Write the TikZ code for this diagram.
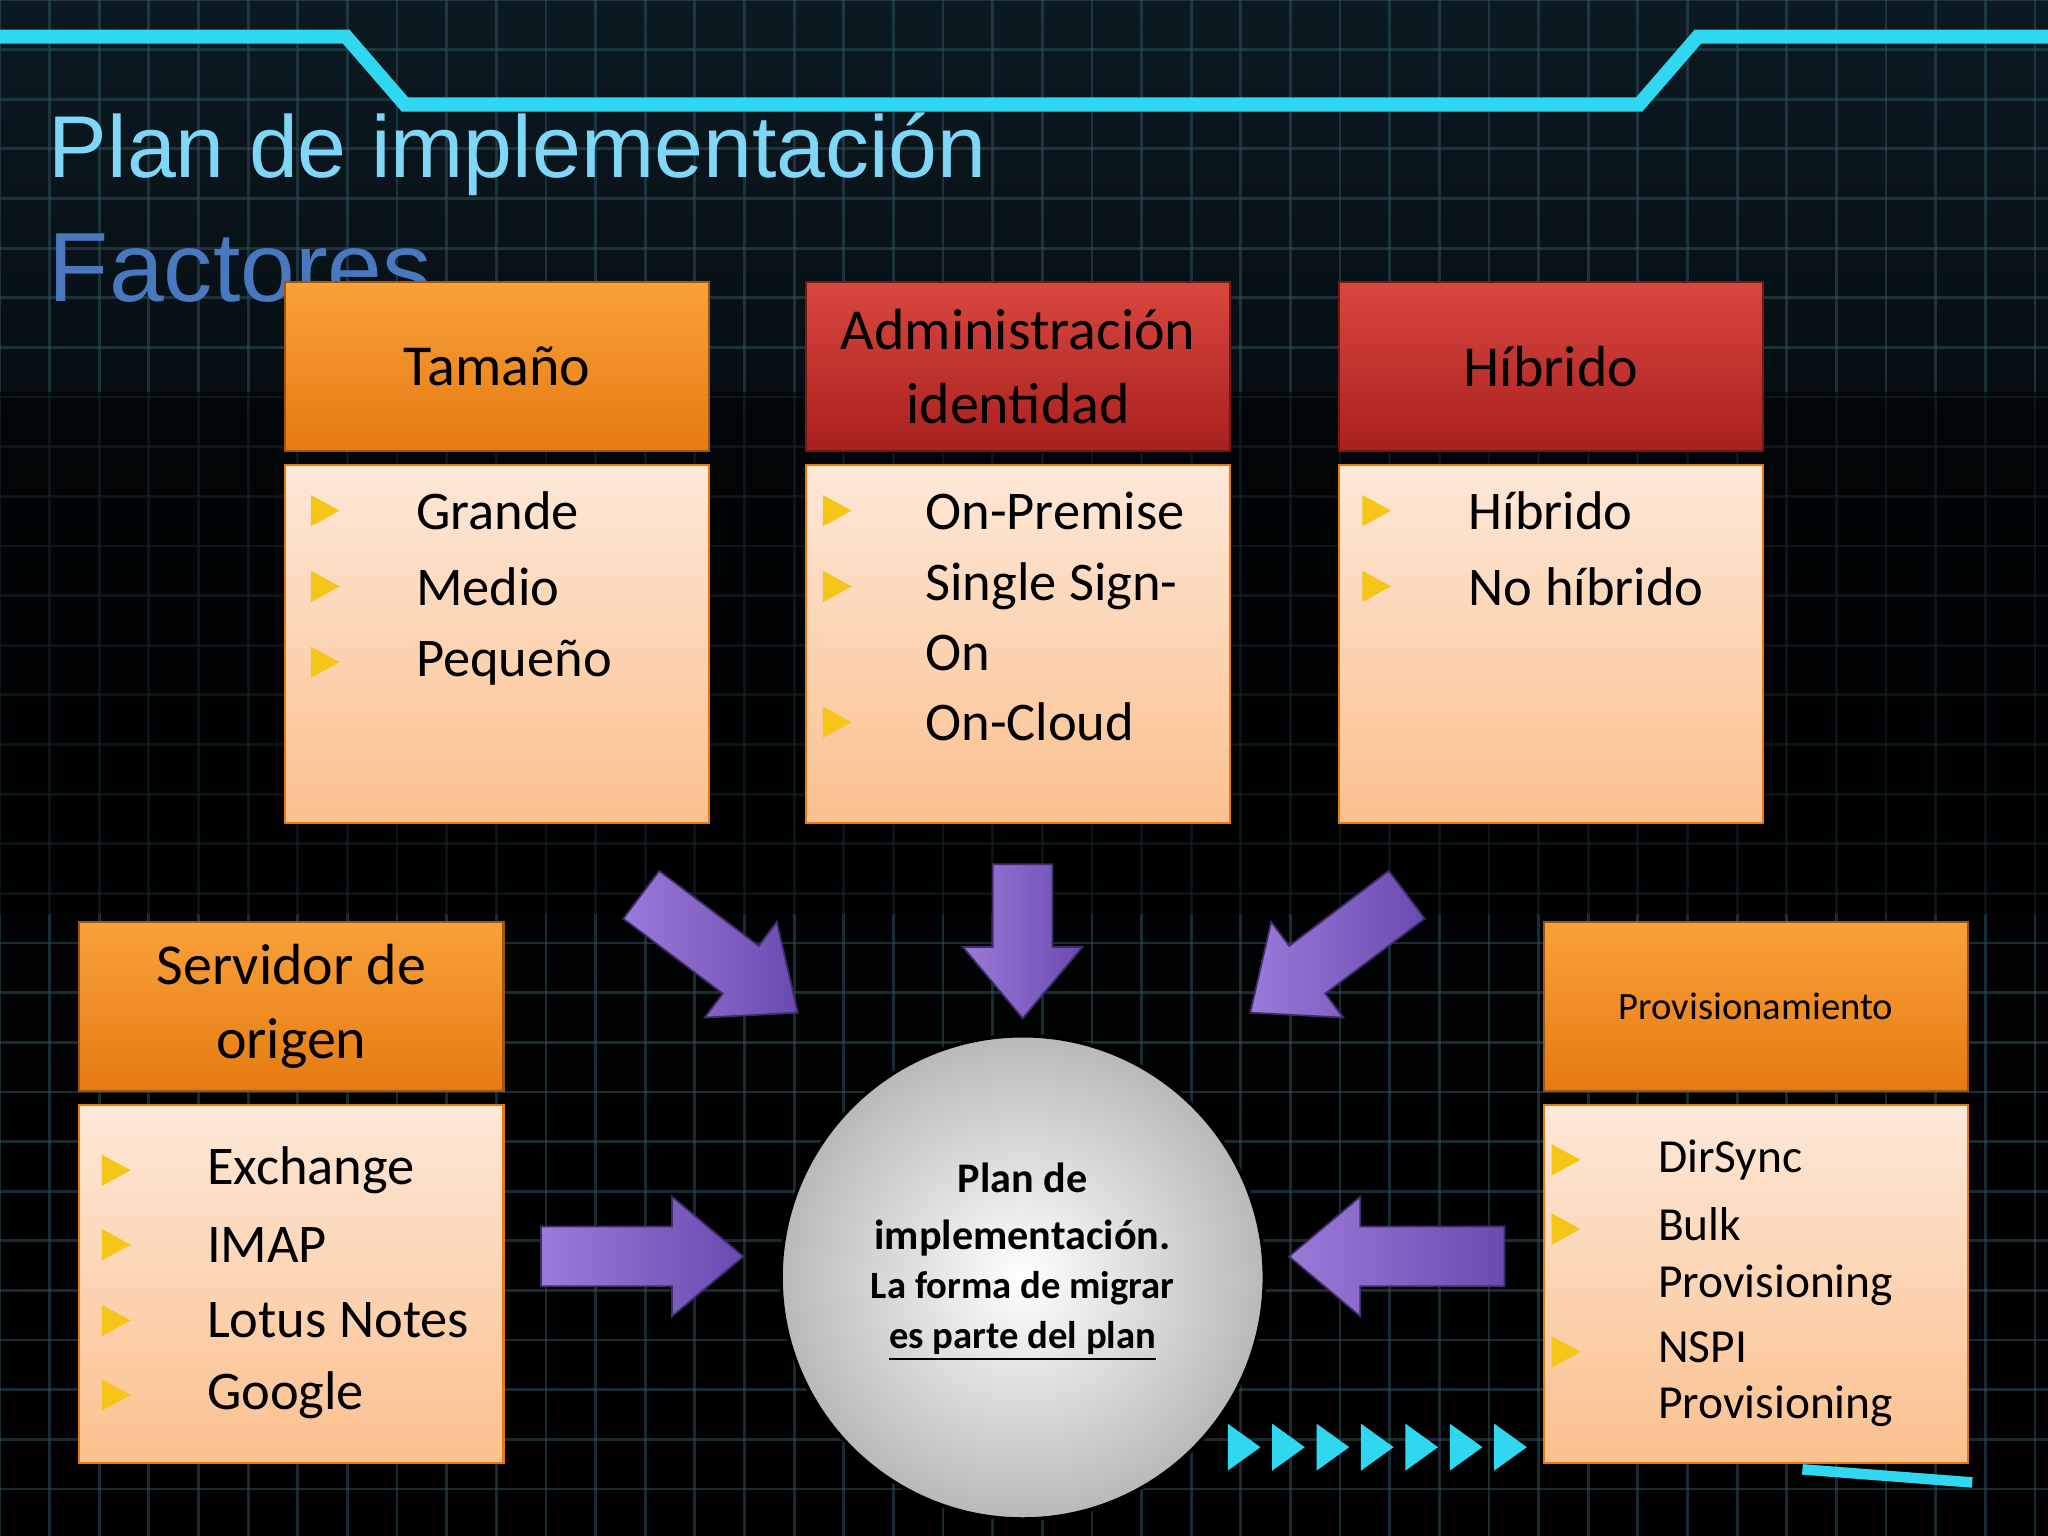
\documentclass[tikz,border=0pt]{standalone}
\usepackage{fontspec}
\setmainfont{Carlito}
\newfontfamily\titlefont{Liberation Sans}
\usetikzlibrary{shapes.arrows}
\definecolor{bgA}{HTML}{0B1A22}
\definecolor{gridc}{HTML}{2E4F5A}
\definecolor{cyanl}{HTML}{2FD8F0}
\definecolor{orT}{HTML}{F9A13A}
\definecolor{orB}{HTML}{E67A12}
\definecolor{rdT}{HTML}{D9473F}
\definecolor{rdB}{HTML}{A8201E}
\definecolor{pkT}{HTML}{FDE8D8}
\definecolor{pkB}{HTML}{FBC08E}
\definecolor{purT}{HTML}{9A7BD8}
\definecolor{purB}{HTML}{6A4AB0}
\definecolor{bul}{HTML}{F5C518}
\tikzset{
 x=0.01306cm,y=-0.01306cm,
 hdr/.style={draw=orB!70!black,line width=0.6pt,top color=orT,bottom color=orB,minimum width=325*0.01306cm,minimum height=129*0.01306cm,align=center,font=\fontsize{16.5}{21}\selectfont,inner sep=0pt},
 rhdr/.style={hdr,top color=rdT,bottom color=rdB,draw=rdB!70!black},
 bodyb/.style={draw=orB,line width=0.6pt,top color=pkT,bottom color=pkB,minimum width=325*0.01306cm,minimum height=274*0.01306cm,inner sep=0pt},
 itm/.style={anchor=west,font=\fontsize{15.5}{17}\selectfont,align=left,inner sep=0pt},
 barr/.style={single arrow,draw=purB!60!black,line width=0.5pt,left color=purT,right color=purB,shading angle=90,inner xsep=0pt,inner ysep=0.29cm,single arrow head extend=0.3cm,single arrow tip angle=80},
}
\newcommand{\bult}[2]{\fill[bul] (#1-10,#2-12) -- (#1+12,#2) -- (#1-10,#2+12) -- cycle;}
\begin{document}
\begin{tikzpicture}
\useasboundingbox (0,0) rectangle (1568,1176);
\fill[top color=bgA,bottom color=black,middle color=black!90!bgA] (0,0) rectangle (1568,1176);
\foreach \i in {0,38,...,1568} \draw[gridc,opacity=0.55,line width=0.8pt] (\i,0) -- (\i,1176);
\foreach \j in {0,38,...,1176} \draw[gridc,opacity=0.55,line width=0.8pt] (0,\j) -- (1568,\j);
\fill[black,opacity=0.55] (0,300) rectangle (1568,700);
\draw[cyanl,line width=4pt] (0,28) -- (265,28) -- (310,80) -- (1255,80) -- (1300,28) -- (1568,28);
\draw[cyanl,line width=3pt] (1380,1125) -- (1510,1135);
\foreach \k in {0,...,6} \fill[cyanl] (940+\k*34,1090) -- (965+\k*34,1108) -- (940+\k*34,1126) -- cycle;
\node[anchor=west,font=\titlefont\fontsize{25}{30}\selectfont,text=cyan!50!white] (t1) at (28,118) {Plan de implementación};
\node[anchor=west,font=\titlefont\fontsize{28}{30}\selectfont,text={rgb,255:red,74;green,120;blue,192}] (t2) at (28,205) {Factores};
% top boxes
\node[hdr] (h1) at (380.5,280.5) {Tamaño};
\node[bodyb] (b1) at (380.5,493) {};
\node[rhdr] (h2) at (779.5,280.5) {Administración\\identidad};
\node[bodyb] (b2) at (779.5,493) {};
\node[rhdr] (h3) at (1187.5,280.5) {Híbrido};
\node[bodyb] (b3) at (1187.5,493) {};
\node[hdr] (h4) at (223,770.5) {Servidor de\\origen};
\node[bodyb] (b4) at (223,983) {};
\node[hdr,font=\fontsize{11}{13}\selectfont] (h5) at (1344.5,770.5) {Provisionamiento};
\node[bodyb] (b5) at (1344.5,983) {};
% items
\bult{248}{391}\node[itm] (i11) at (318,391) {Grande};
\bult{248}{449}\node[itm] (i12) at (318,449) {Medio};
\bult{248}{507}\node[itm] (i13) at (318,507) {Pequeño};
\bult{640}{391}\node[itm] (i21) at (708,391) {On-Premise};
\bult{640}{449}\node[itm] (i22) at (708,472) {Single Sign-\\[3pt]On};
\bult{640}{553}\node[itm] (i23) at (708,553) {On-Cloud};
\bult{1053}{391}\node[itm] (i31) at (1124,391) {Híbrido};
\bult{1053}{449}\node[itm] (i32) at (1124,449) {No híbrido};
\bult{88}{896}\node[itm] (i41) at (158,896) {Exchange};
\bult{88}{953}\node[itm] (i42) at (158,953) {IMAP};
\bult{88}{1011}\node[itm] (i43) at (158,1011) {Lotus Notes};
\bult{88}{1068}\node[itm] (i44) at (158,1068) {Google};
\begin{scope}[itm/.append style={font=\fontsize{13.5}{16}\selectfont}]
\bult{1198}{888}\node[itm] (i51) at (1269,888) {DirSync};
\bult{1198}{941}\node[itm] (i52) at (1269,962) {Bulk\\Provisioning};
\bult{1198}{1035}\node[itm] (i53) at (1269,1056) {NSPI\\Provisioning};
\end{scope}
% circle
\node[circle,draw=black,line width=1pt,inner color=white,outer color=gray!55,minimum size=370*0.01306cm,align=center] (c) at (783,978) {};
\node[align=center,font=\fontsize{12}{16}\selectfont\bfseries] (ct) at (783,926) {Plan de\\implementación.};
\node[align=center,font=\fontsize{11}{14}\selectfont\bfseries] (cs) at (783,1008) {La forma de migrar\\\underline{es parte del plan}};
% arrows
\node[barr,minimum height=150*0.01306cm,rotate=-37] (a1) at (540,722) {};
\node[barr,minimum height=118*0.01306cm,rotate=-90] (a2) at (783,707) {};
\node[barr,minimum height=150*0.01306cm,rotate=-143] (a3) at (1028,722) {};
\node[barr,minimum height=155*0.01306cm] (a4) at (478,962) {};
\node[barr,minimum height=165*0.01306cm,rotate=180] (a5) at (1083,962) {};
\end{tikzpicture}
\end{document}
